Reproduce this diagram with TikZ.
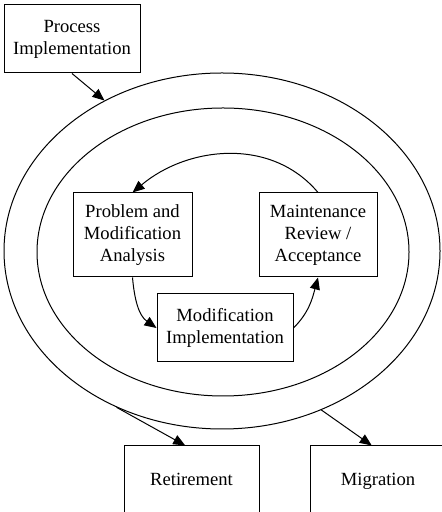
\documentclass[tikz,border=0pt]{standalone}
\usepackage{fontspec}
\setmainfont{Liberation Serif}
\usetikzlibrary{shapes.geometric,arrows.meta}

\tikzset{
  box/.style={draw,rectangle,align=center,inner sep=0pt,font=\fontsize{9.3}{11}\selectfont},
  ring/.style={draw,ellipse,inner sep=0pt},
  arr/.style={-{Triangle[length=6pt,width=5pt]}}
}

\begin{document}
\begin{tikzpicture}[x=0.5pt,y=0.5pt,line width=0.5pt]
  \clip (0,0) rectangle (442,512);

  % rings
  \node[ring,minimum width=218pt,minimum height=178pt] (outer) at (222,261) {};
  \node[ring,minimum width=186pt,minimum height=144pt] (inner) at (223,260) {};

  \node[box,minimum width=68pt,minimum height=34pt] (proc) at (72,473) {Process\\Implementation};

  % inner cycle
  \node[box,minimum width=59.5pt,minimum height=42pt] (prob) at (132.5,277) {Problem and\\Modification\\Analysis};
  \node[box,minimum width=59pt,minimum height=42pt] (maint) at (318,277) {Maintenance\\Review /\\Acceptance};
  \node[box,minimum width=68pt,minimum height=34pt] (mod) at (225,184) {Modification\\Implementation};

  \node[box,minimum width=67.5pt,minimum height=35pt] (ret) at (191.5,31) {\strut Retirement};
  \node[box,minimum width=68pt,minimum height=35pt] (mig) at (378,31) {\strut Migration};

  \draw[arr] (proc.south) -- (outer.128);
  \draw[arr] (maint.north) to[out=130,in=40] (prob.north);
  \draw[arr] (prob.south) to[out=-85,in=145] (mod.west);
  \draw[arr] (mod.east) to[out=45,in=-105] (maint.south);
  \draw[arr] (outer.236) -- (ret.100);
  \draw[arr] (outer.302) -- (mig.100);
\end{tikzpicture}
\end{document}
